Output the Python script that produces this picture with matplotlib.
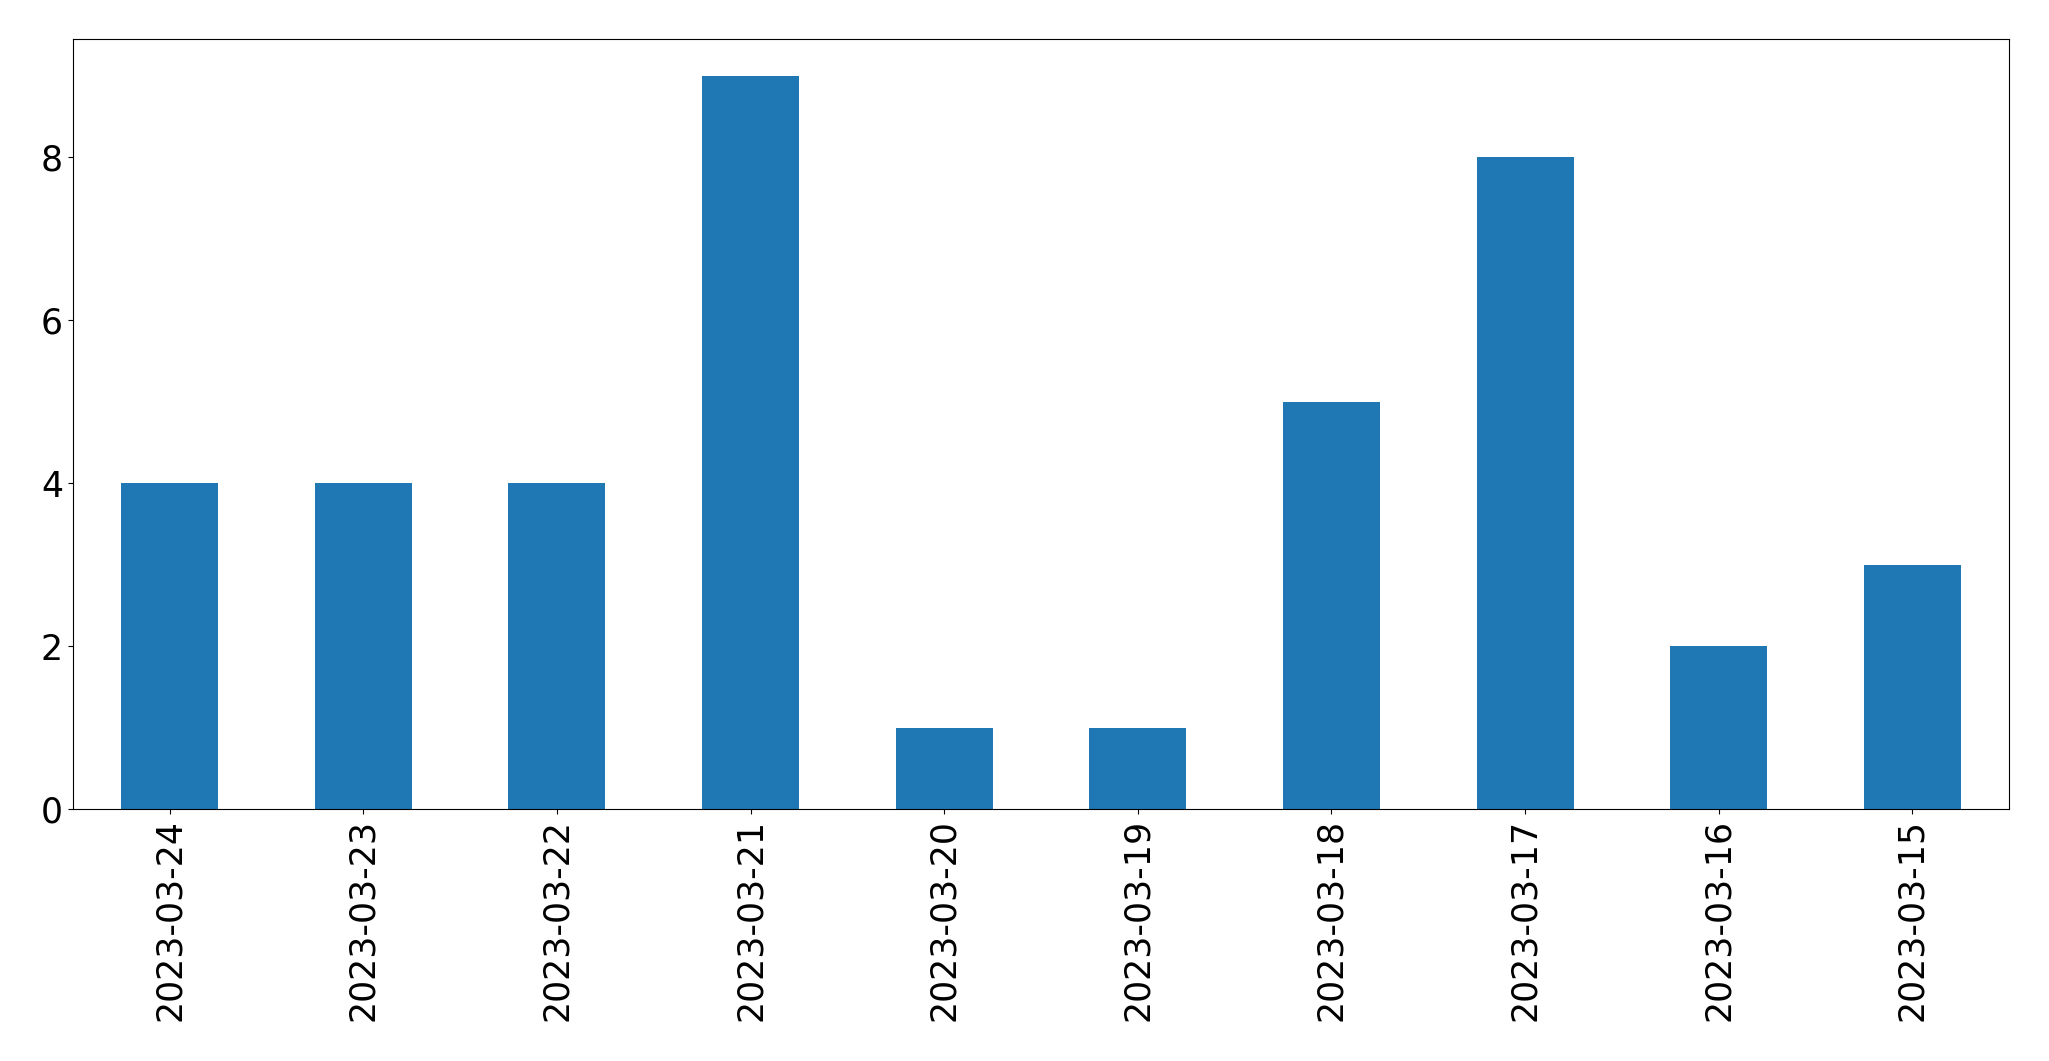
import matplotlib
matplotlib.use("Agg")
import matplotlib.pyplot as plt
import pandas as pd

dates = ["2023-03-24", "2023-03-23", "2023-03-22", "2023-03-21", "2023-03-20",
         "2023-03-19", "2023-03-18", "2023-03-17", "2023-03-16", "2023-03-15"]
counts = [4, 4, 4, 9, 1, 1, 5, 8, 2, 3]

plt.rcParams["font.size"] = 25

s = pd.Series(counts, index=dates)

fig = plt.figure(figsize=(20.49, 10.61), dpi=100)
ax = fig.add_axes([0.0355, 0.2372, 0.9451, 0.7258])
s.plot(kind="bar", ax=ax, color="#1f77b4")
ax.set_xlabel("")

plt.savefig("out.png", dpi=100)
